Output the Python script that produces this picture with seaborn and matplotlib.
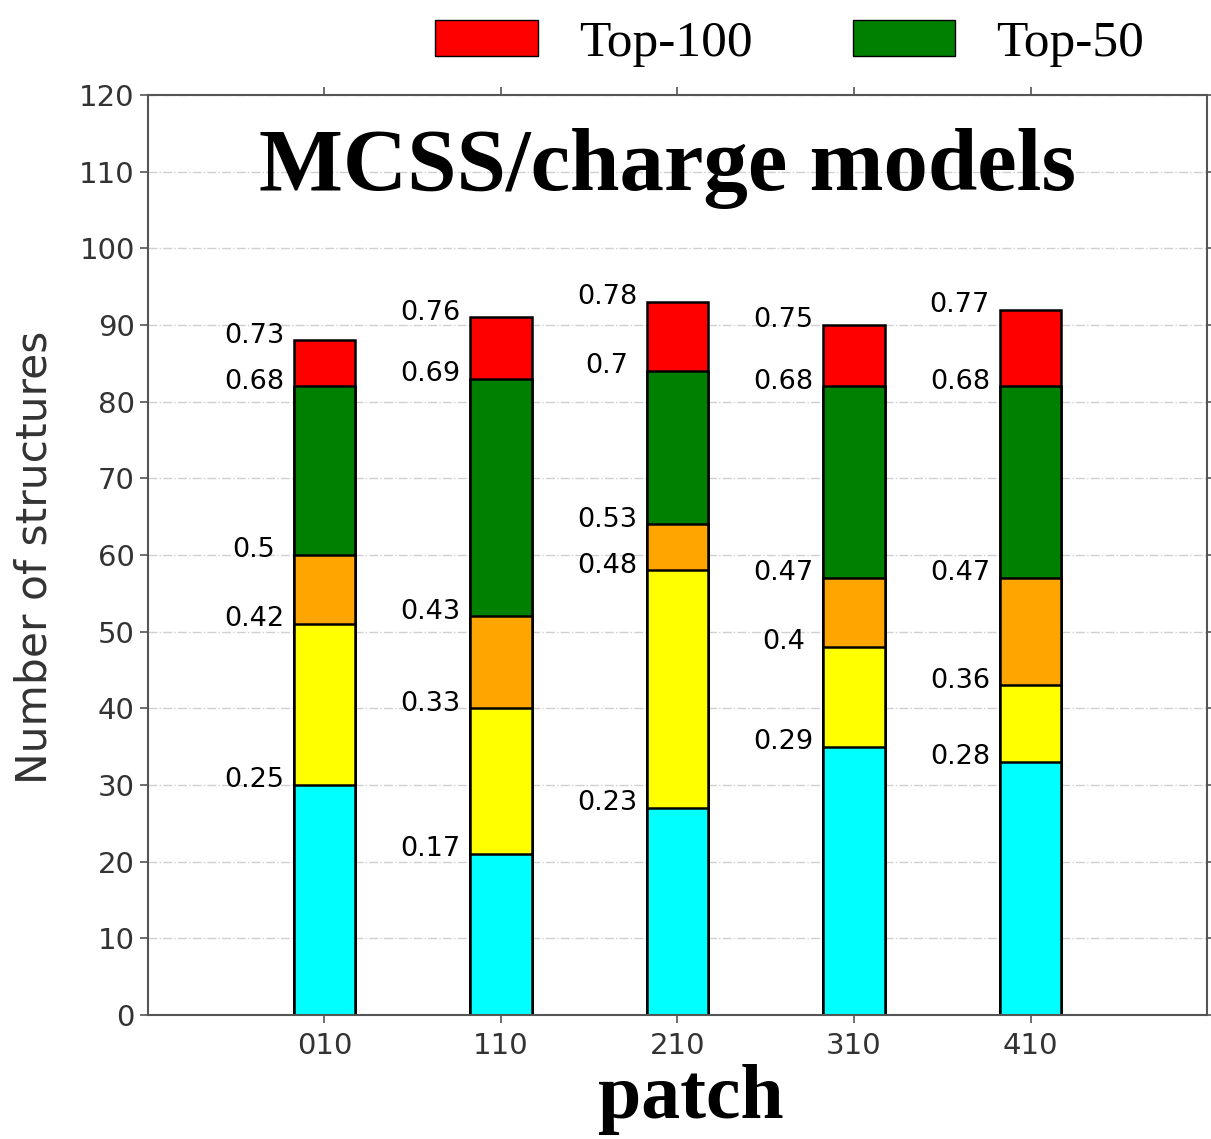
import matplotlib
matplotlib.use("Agg")
import matplotlib.pyplot as plt
import seaborn as sns
from matplotlib.patches import Patch

# ---- data ----
patches = ["010", "110", "210", "310", "410"]
cyan_top = [30, 21, 27, 35, 33]
yellow_top = [51, 40, 58, 48, 43]
orange_top = [60, 52, 64, 57, 57]
green_top = [82, 83, 84, 82, 82]
red_top = [88, 91, 93, 90, 92]

lab_cyan = ["0.25", "0.17", "0.23", "0.29", "0.28"]
lab_yellow = ["0.42", "0.33", "0.48", "0.4", "0.36"]
lab_orange = ["0.5", "0.43", "0.53", "0.47", "0.47"]
lab_green = ["0.68", "0.69", "0.7", "0.68", "0.68"]
lab_red = ["0.73", "0.76", "0.78", "0.75", "0.77"]

legend_labels = ["Top-100", "Top-50"]
title = "MCSS/charge models"
xlabel = "patch"
ylabel = "Number of structures"

# ---- style ----
sns.set_theme(style="white")
plt.rcParams["font.family"] = ["DejaVu Sans"]
SERIF = ["Liberation Serif", "DejaVu Serif"]

fig = plt.figure(figsize=(12.11, 11.39), dpi=100)
ax = fig.add_axes([0.1222, 0.1089, 0.9967 - 0.1222, 0.9166 - 0.1089])

layers = [
    (red_top, "#FF0000"),
    (green_top, "#008000"),
    (orange_top, "#FFA500"),
    (yellow_top, "#FFFF00"),
    (cyan_top, "#00FFFF"),
]
for vals, col in layers:
    sns.barplot(x=patches, y=vals, color=col, width=0.35, edgecolor="black",
                linewidth=1.8, ax=ax, saturation=1)

# value labels
for vals, labs in [(cyan_top, lab_cyan), (yellow_top, lab_yellow),
                   (orange_top, lab_orange), (green_top, lab_green),
                   (red_top, lab_red)]:
    for i, (v, t) in enumerate(zip(vals, labs)):
        ax.text(i - 0.4, v + 0.6, t, ha="center", va="center",
                fontsize=19.5, color="black")

ax.set_xlim(-1, 5)
ax.set_ylim(0, 120)
ax.set_yticks(range(0, 121, 10))
ax.set_axisbelow(True)
ax.yaxis.grid(True, linestyle="-.", color="#d0d0d0", linewidth=1)
ax.xaxis.grid(False)

for s in ax.spines.values():
    s.set_color("#555555")
    s.set_linewidth(1.5)
    s.set_visible(True)
ax.tick_params(axis="both", which="major", direction="out", length=6, width=1.2,
               color="#555555", labelcolor="#333333", labelsize=21,
               top=True, right=True, bottom=True, left=True,
               labeltop=False, labelright=False)
ax.tick_params(axis="x", pad=6)

ax.set_ylabel(ylabel, fontsize=30.5, color="#333333")
ax.yaxis.label.set_va("center")
ax.yaxis.set_label_coords(-0.107, 0.498)

ax.set_xlabel(xlabel, fontsize=56, fontweight="bold", family=SERIF, color="black")
ax.xaxis.label.set_va("baseline")
ax.xaxis.set_label_coords((691 - 148) / 1059, -(1118 - 1015) / 920)

ax.text((668 - 148) / 1059, (1015 - 190) / 920, title, transform=ax.transAxes,
        ha="center", va="baseline", fontsize=64, fontweight="bold",
        family=SERIF, color="black")

handles = [Patch(facecolor="#FF0000", edgecolor="black", linewidth=1),
           Patch(facecolor="#008000", edgecolor="black", linewidth=1)]
leg = fig.legend(handles, legend_labels, loc="center right", ncol=2, frameon=False,
                 bbox_to_anchor=(0.945, 0.962), borderaxespad=0, borderpad=0,
                 handlelength=2.0, handleheight=0.7, handletextpad=0.8,
                 columnspacing=1.95, prop={"family": SERIF, "size": 37})
for t in leg.get_texts():
    t.set_color("black")

fig.savefig("out.png", dpi=100)
